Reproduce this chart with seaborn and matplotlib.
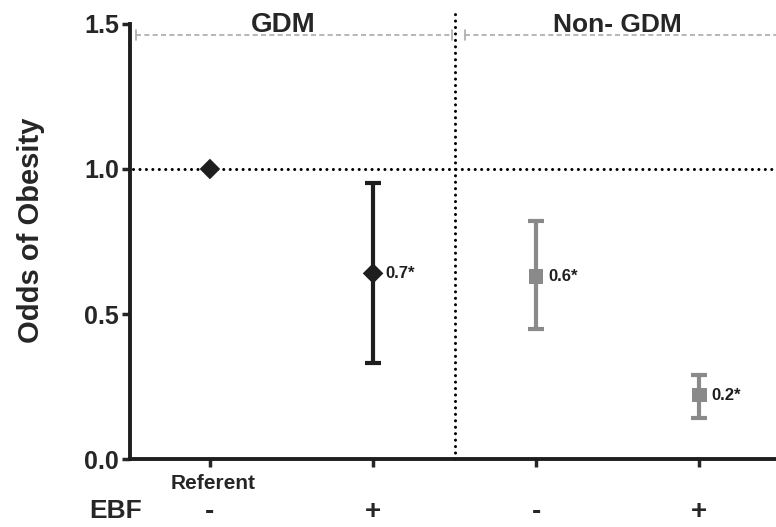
import pandas as pd
import seaborn as sns
import matplotlib.pyplot as plt
import numpy as np

# data
groups = ["GDM", "GDM", "Non- GDM", "Non- GDM"]
ebf = ["-", "+", "-", "+"]
odds = [1.0, 0.64, 0.63, 0.22]
lower = [1.0, 0.33, 0.45, 0.14]
upper = [1.0, 0.95, 0.82, 0.29]
point_labels = ["", "0.7*", "0.6*", "0.2*"]
yticks = [0.0, 0.5, 1.0, 1.5]

df = pd.DataFrame({"group": groups, "ebf": ebf, "odds": odds,
                   "lower": lower, "upper": upper, "label": point_labels})
df["pos"] = np.arange(len(df))
df["kind"] = ["GDM", "GDM", "Non", "Non"]

sns.set_style("ticks")
plt.rcParams["font.family"] = ["Liberation Sans", "DejaVu Sans"]
plt.rcParams["font.weight"] = "bold"

fig = plt.figure(figsize=(7.76, 5.27), dpi=100)
ax = fig.add_axes([0.1675, 0.129, 0.8325, 0.8255])

dark = "#1e1e1e"
grey = "#8a8a8a"

# error bars
for i, r in df.iterrows():
    if r.lower == r.upper:
        continue
    c = dark if r.kind == "GDM" else grey
    ax.errorbar(r.pos, r.odds, yerr=[[r.odds - r.lower], [r.upper - r.odds]],
                fmt="none", ecolor=c, elinewidth=3, capsize=6, capthick=3, zorder=3)

sns.scatterplot(data=df, x="pos", y="odds", hue="kind", style="kind",
                palette={"GDM": dark, "Non": grey},
                markers={"GDM": "D", "Non": "s"}, s=110, edgecolor="none",
                legend=False, ax=ax, zorder=4)

for i, r in df.iterrows():
    if r.label:
        ax.text(r.pos + 0.075, r.odds, r.label, fontsize=12, fontweight="bold",
                va="center", ha="left", color=dark)

# reference lines (round dots)
dots = dict(color="black", lw=2.2, linestyle=(0, (0.01, 2.1)),
            dash_capstyle="round", zorder=1)
ax.plot([-0.47, 3.47], [1.0, 1.0], **dots)
ax.plot([1.5, 1.5], [0.0, 1.55], clip_on=False, **dots)

# group brackets
for x0, x1 in [(-0.455, 1.485), (1.565, 3.6)]:
    ax.plot([x0, x1], [1.462, 1.462], color="#aaaaaa", lw=1.2,
            linestyle=(0, (3, 2)), zorder=1, clip_on=True)
    for xe in (x0, x1):
        ax.plot([xe, xe], [1.445, 1.48], color="#aaaaaa", lw=1.2, zorder=1)

ax.text(0.45, 1.495, "GDM", ha="center", va="center", fontsize=20, fontweight="bold")
ax.text(2.5, 1.495, "Non- GDM", ha="center", va="center", fontsize=19, fontweight="bold")

ax.set_xlim(-0.49, 3.47)
ax.set_ylim(0, 1.5)
ax.set_yticks(yticks)
ax.set_yticklabels([f"{v:.1f}" for v in yticks], fontsize=18, fontweight="bold")
ax.set_xticks(df["pos"])
ax.set_xticklabels(df["ebf"], fontsize=20, fontweight="bold")
for lab in ax.get_xticklabels():
    lab.set_va("center")
ax.tick_params(axis="x", pad=32, length=6, width=2.5)
ax.tick_params(axis="y", length=6, width=2.5, pad=2)
ax.set_xlabel("")
ax.set_ylabel("Odds of Obesity", fontsize=21, fontweight="bold")
ax.yaxis.set_label_coords(-0.132, 0.525)

sns.despine(ax=ax)
for s in ["left", "bottom"]:
    ax.spines[s].set_linewidth(2.8)
    ax.spines[s].set_color(dark)

ax.text(0.02, -0.083, "Referent", ha="center", va="center", fontsize=15,
        fontweight="bold", clip_on=False)
ax.text(-0.577, -0.18, "EBF", ha="center", va="center", fontsize=19,
        fontweight="bold", clip_on=False)

fig.savefig("out.png", dpi=100)
